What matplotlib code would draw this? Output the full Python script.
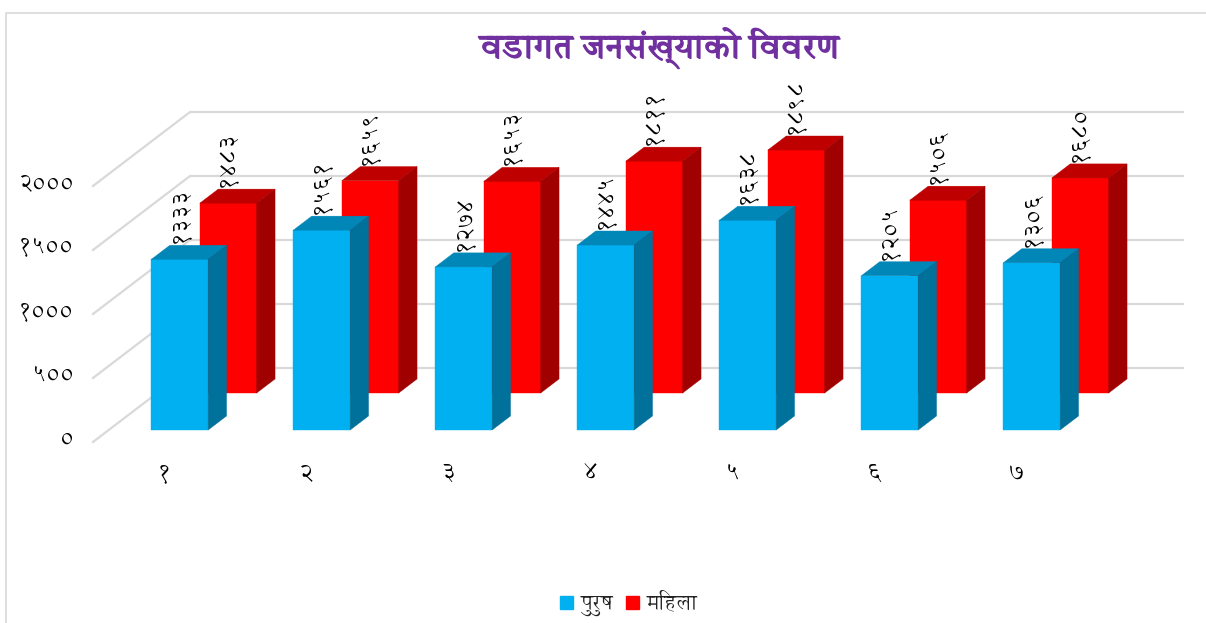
"""
Ward-wise population chart, drawn as oblique 3D columns on a flat matplotlib axes.
"""

import matplotlib
matplotlib.use("Agg")
import matplotlib.pyplot as plt
import matplotlib.patches as mpatches
import matplotlib.patheffects as pe
from matplotlib.lines import Line2D

plt.rcParams["font.family"] = ["Annapurna SIL", "Noto Sans", "DejaVu Sans"]

TITLE = "वडागत जनसंख्याको विवरण"
WARDS = ["१", "२", "३", "४", "५", "६", "७"]
MALE = [1333, 1561, 1274, 1445, 1638, 1205, 1306]
FEMALE = [1483, 1659, 1653, 1811, 1898, 1506, 1680]
MALE_NAME = "पुरुष"
FEMALE_NAME = "महिला"
Y_TICKS = [0, 500, 1000, 1500, 2000]

# oblique projection, depth 1 is the back wall
DEPTH_X = 97 / 142
DEPTH_Y = 74 / 0.128
HALF_WIDTH = 0.2
MALE_DEPTH = (0.162, 0.352)
FEMALE_DEPTH = (0.662, 0.852)

BLUE = ("#00B0F0", "#0087B8", "#00719B")
RED = ("#FF0000", "#BF0000", "#A00000")
GRID = "#D9D9D9"
PURPLE = "#7030A0"


def nepali(value):
    return str(value).translate(str.maketrans("0123456789", "०१२३४५६७८९"))


def visual(text):
    """matplotlib does not shape Devanagari, so put the i-matra where it is seen."""
    chars = list(text)
    for i, c in enumerate(chars):
        if c == "ि" and i > 0:
            chars[i - 1], chars[i] = chars[i], chars[i - 1]
    return "".join(chars)


def project(x, y, depth):
    return x + depth * DEPTH_X, y + depth * DEPTH_Y


def draw_column(ax, x, value, depth, colors, zorder):
    near, far = depth
    left, right = x - HALF_WIDTH, x + HALF_WIDTH
    faces = [
        (colors[0], [(left, 0, near), (right, 0, near), (right, value, near), (left, value, near)]),
        (colors[1], [(left, value, near), (right, value, near), (right, value, far), (left, value, far)]),
        (colors[2], [(right, 0, near), (right, 0, far), (right, value, far), (right, value, near)]),
    ]
    for color, corners in faces:
        pts = [project(*c) for c in corners]
        ax.fill([p[0] for p in pts], [p[1] for p in pts], color=color, lw=0.3, zorder=zorder)
    # value label sits over the front face, just above the back edge of the top
    ax.annotate(nepali(value), project(x, value, far), xytext=(-(far - near) * 97 * 0.72, 1.5),
                textcoords="offset points", rotation=90, ha="center", va="bottom",
                fontsize=17, color="black", zorder=10)


fig = plt.figure(figsize=(12.06, 6.23), dpi=100, facecolor="white")
ax = fig.add_axes([0, 0, 1, 1])
ax.set_xlim(1 - 164 / 142, 1 + (1206 - 164) / 142)
ax.set_ylim((442 - 623) / 0.128, 442 / 0.128)
ax.axis("off")

# floor/wall grid lines
wall_left = 1 - (164 - 93) / 142
wall_right = 1 + (1183 - 97 - 164) / 142
for tick in Y_TICKS:
    xs, ys = zip(project(wall_left, tick, 0), project(wall_left, tick, 1), project(wall_right, tick, 1))
    ax.plot(xs, ys, color=GRID, lw=1.6, solid_joinstyle="miter", zorder=1)
    ax.annotate(nepali(tick), (wall_left, tick), xytext=(-14, 1.5), textcoords="offset points",
                ha="right", va="center", fontsize=17, color="black")

for i, ward in enumerate(WARDS):
    x = i + 1
    draw_column(ax, x, FEMALE[i], FEMALE_DEPTH, RED, zorder=3)
    draw_column(ax, x, MALE[i], MALE_DEPTH, BLUE, zorder=4)
    ax.annotate(ward, (x, 0), xytext=(0, -23), textcoords="offset points",
                ha="center", va="center", fontsize=18, color="black")

# the font has no usable bold here, a thin stroke gives the heavy title
fig.text(659 / 1206, 1 - 48 / 623, visual(TITLE), color=PURPLE, fontsize=24,
         ha="center", va="center",
         path_effects=[pe.withStroke(linewidth=1.3, foreground=PURPLE)])

handles = [mpatches.Patch(color=BLUE[0], label=MALE_NAME),
           mpatches.Patch(color=RED[0], label=visual(FEMALE_NAME))]
fig.legend(handles=handles, loc="center", bbox_to_anchor=(629 / 1206, 1 - 604 / 623), ncol=2,
           frameon=False, fontsize=15, handlelength=0.6, handleheight=0.6,
           handletextpad=0.4, columnspacing=0.6, labelcolor="#222222")

# chart area border, only its top and left edges are in the crop
fig.add_artist(Line2D([6 / 1206, 6 / 1206, 1], [0, 1 - 13 / 623, 1 - 13 / 623],
                      color=GRID, lw=1.2))

fig.savefig("out.png", dpi=100)
plt.close(fig)
